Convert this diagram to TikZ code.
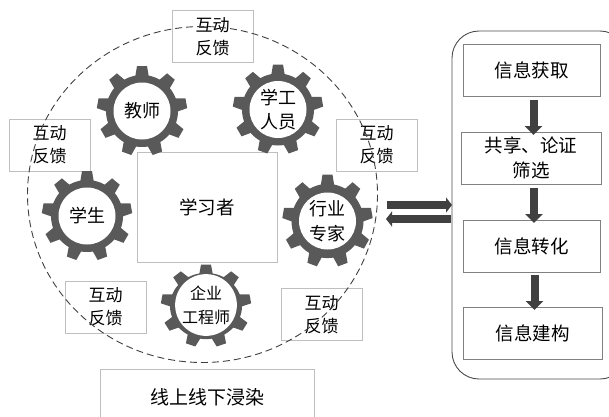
\documentclass[tikz,border=0pt]{standalone}
\usepackage{fontspec}
\setmainfont{Noto Sans CJK SC}
\usetikzlibrary{arrows.meta}
\definecolor{gearcol}{HTML}{595959}
\definecolor{arrowcol}{HTML}{404040}
\definecolor{edgecol}{HTML}{BFBFBF}
\newcommand{\gearshape}[3]{%
  \begin{scope}[shift={(#1)},yscale=#2]
  \fill[gearcol] (0,0) circle (36);
  \foreach \a in {90,130,...,410}{
    \fill[gearcol,rotate=\a] (33,-7) -- (45,-5) -- (45,5) -- (33,7) -- cycle;
  }
  \end{scope}
  #3
}
\tikzset{
  x=1pt,y=-1pt,
  boxstyle/.style={draw=edgecol,line width=0.8pt,fill=white,inner sep=0pt,outer sep=0pt,align=center,text=black},
  feedback/.style={boxstyle,minimum width=81,minimum height=52,font=\fontsize{17}{23}\selectfont},
  infobox/.style={draw=gray,line width=0.8pt,fill=white,inner sep=0pt,outer sep=0pt,align=center,font=\fontsize{18.5}{25}\selectfont},
  hub/.style={circle,fill=white,inner sep=0pt,minimum size=57,align=center},
  flowarrow/.style={arrowcol,line width=8pt,-{Triangle[length=9pt,width=17pt]}},
  sidearrow/.style={arrowcol,line width=8pt,-{Triangle[length=6pt,width=15pt]}},
}
\begin{document}
\begin{tikzpicture}
\useasboundingbox (0,0) rectangle (609,416);
% boxes
\node[boxstyle,minimum width=140,minimum height=110,font=\fontsize{18.5}{24}\selectfont,text depth=0pt] (learner) at (207,207) {学习者};
\node[boxstyle,minimum width=214,minimum height=60,font=\fontsize{19}{24}\selectfont] (bottom) at (207,399) {\raisebox{6pt}{线上线下浸染}};
\node[feedback] (fb1) at (212.5,36.5) {互动\\反馈};
\node[feedback] (fb2) at (49.5,145) {互动\\反馈};
\node[feedback] (fb3) at (376.5,145) {互动\\反馈};
\node[feedback] (fb4) at (105.5,307) {互动\\反馈};
\node[feedback] (fb5) at (321.5,314.5) {互动\\反馈};
% dashed circle
\draw[dash pattern=on 7pt off 4pt,line width=0.9pt,draw=black!75] (202.5,194.5) ellipse [x radius=175,y radius=168];
% gears
\gearshape{142,111}{1}{\node[hub,font=\fontsize{18}{24}\selectfont] (g1) at (142,111) {教师};}
\gearshape{278,109.5}{1}{\node[hub,font=\fontsize{18}{24}\selectfont] (g2) at (278,109.5) {学工\\人员};}
\gearshape{87,216}{1}{\node[hub,font=\fontsize{18}{24}\selectfont] (g3) at (87,216) {学生};}
\gearshape{327.5,221}{1.03}{\node[hub,font=\fontsize{18}{25}\selectfont] (g4) at (327.5,221) {行业\\专家};}
\gearshape{206,306}{0.92}{\node[hub,font=\fontsize{16}{24}\selectfont] (g5) at (206,305) {企业\\工程师};}
% right panel
\node[draw=black!70,line width=0.9pt,rounded corners=27pt,fill=white,minimum width=175,minimum height=348,inner sep=0pt,outer sep=0pt] (panel) at (539.5,205) {};
\node[infobox,minimum width=137,minimum height=52] (s1) at (531.5,70) {信息获取};
\node[infobox,minimum width=140,minimum height=52] (s2) at (531,158) {共享、论证\\筛选};
\node[infobox,minimum width=137,minimum height=52] (s3) at (531.5,246) {信息转化};
\node[infobox,minimum width=139,minimum height=52] (s4) at (532.5,333) {信息建构};
% arrows
\coordinate (a1s) at ([xshift=2pt,yshift=-4pt]s1.south);
\coordinate (a1e) at ([xshift=3pt,yshift=-3pt]s2.north);
\coordinate (a2s) at ([xshift=3pt,yshift=-4pt]s2.south);
\coordinate (a2e) at ([xshift=3pt,yshift=-3pt]s3.north);
\coordinate (a3s) at ([xshift=3pt,yshift=-3pt]s3.south);
\coordinate (a3e) at ([xshift=2pt,yshift=-3pt]s4.north);
\draw[flowarrow] (a1s) -- (a1s |- a1e);
\draw[flowarrow] (a2s) -- (a2s |- a2e);
\draw[flowarrow] (a3s) -- (a3s |- a3e);
\coordinate (r1) at (panel.west);
\coordinate (l1) at (387,205);
\coordinate (r2) at (451,219);
\coordinate (l2) at (386,219);
\draw[sidearrow] (l1) -- (l1 -| r1);
\draw[sidearrow] (r2) -- (l2);
\end{tikzpicture}
\end{document}
